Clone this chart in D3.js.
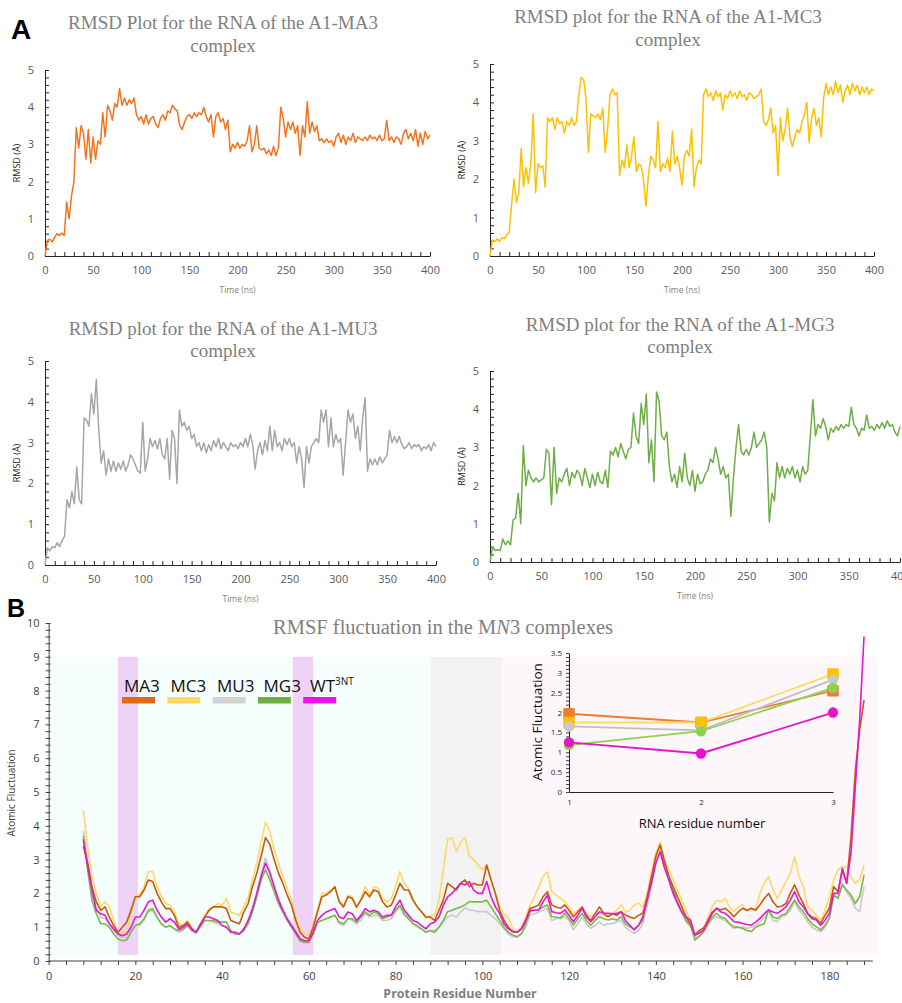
<!DOCTYPE html>
<html>
<head>
<meta charset="utf-8">
<script src="https://cdn.jsdelivr.net/npm/d3@7"></script>
<style>
  body { margin: 0; background: #fff; }
  svg { display: block; font-family: "Open Sans", sans-serif; }
</style>
</head>
<body>
<script>
// ---- RMSD data (A), one value every 2.5 ns from 0 to 400 ns ----
const time = d3.range(0, 400.01, 2.5);

const rmsdMA3 = [
  0.0,0.42,0.45,0.38,0.5,0.6,0.55,0.62,0.55,1.45,
  1.0,1.6,2.0,3.45,2.9,3.5,3.3,2.6,3.4,2.5,
  3.2,2.6,3.1,3.0,3.85,3.2,4.05,3.9,3.65,4.1,
  4.0,4.5,4.05,4.25,4.05,4.2,4.1,4.25,3.8,3.65,
  3.75,3.55,3.8,3.55,3.7,3.75,3.55,3.45,3.7,3.8,
  3.65,3.9,3.85,4.05,3.95,3.9,3.5,3.4,3.6,3.75,
  3.8,3.7,3.85,3.75,3.85,3.8,4.0,3.75,3.6,3.8,
  3.2,3.75,3.85,3.6,3.7,3.4,3.65,2.8,3.0,2.9,
  3.05,2.9,3.0,2.95,3.1,3.5,2.8,3.0,3.5,2.9,
  2.85,2.9,2.75,2.85,2.7,2.95,2.7,2.9,4.0,3.7,
  3.2,3.6,3.4,3.6,3.3,3.5,2.7,3.5,3.2,4.15,
  3.3,3.6,3.35,3.5,3.1,3.15,3.05,3.15,3.05,3.1,
  2.95,3.2,3.3,3.05,3.25,3.0,3.2,3.1,3.3,3.05,
  3.2,3.15,3.1,3.2,3.1,3.25,3.15,3.2,3.1,3.25,
  3.1,3.15,3.65,3.1,3.2,3.05,3.2,3.15,3.0,3.3,
  3.4,3.15,3.3,3.1,3.4,2.95,3.3,3.0,3.35,3.15,
  3.25
];

const rmsdMC3 = [
  0.0,0.42,0.38,0.45,0.38,0.48,0.45,0.55,0.62,1.35,
  2.0,1.4,1.65,2.8,1.8,2.3,1.9,2.4,3.7,1.65,
  2.4,2.3,2.35,1.8,3.6,3.5,3.6,3.3,3.6,3.45,
  3.5,3.2,3.5,3.4,3.6,3.4,3.5,4.2,4.65,4.6,
  4.1,2.7,3.7,3.65,3.6,3.7,3.55,3.85,2.7,3.3,
  4.2,4.35,4.2,4.25,2.1,2.5,2.3,2.9,2.3,2.6,
  3.1,2.2,2.4,2.35,1.95,1.3,2.1,2.6,2.5,2.3,
  3.5,2.2,2.4,2.3,2.55,2.2,3.25,2.4,2.6,2.3,
  1.85,2.6,2.75,2.6,3.3,1.8,2.3,2.5,2.4,4.2,
  4.35,4.15,4.25,4.05,4.3,4.15,4.25,3.8,4.2,4.1,
  4.3,4.15,4.25,4.1,4.3,4.15,4.2,4.05,4.25,4.2,
  4.1,4.15,4.2,4.35,3.5,3.4,3.55,3.85,3.2,3.4,
  2.1,3.6,3.0,3.3,3.85,3.1,2.85,3.1,3.3,3.2,
  3.5,3.7,4.0,2.95,3.6,3.85,3.4,3.6,3.1,4.1,
  4.5,4.2,4.4,4.2,4.55,4.25,4.45,4.0,4.3,4.45,
  4.2,4.5,4.3,4.45,4.2,4.4,4.25,4.4,4.2,4.35,
  4.3
];

const rmsdMU3 = [
  0.0,0.42,0.35,0.45,0.42,0.55,0.45,0.6,0.7,1.6,
  1.4,1.8,1.5,2.4,1.6,1.5,3.6,3.55,3.4,4.2,
  3.7,4.55,3.3,2.5,2.8,2.2,2.6,2.3,2.55,2.3,
  2.5,2.35,2.55,2.3,2.45,2.7,2.6,2.45,2.3,2.25,
  3.5,2.3,2.6,3.1,2.9,3.05,2.85,3.1,2.7,2.6,
  3.1,2.1,3.3,3.1,2.0,3.8,3.4,3.5,3.3,3.4,
  3.1,3.2,2.9,3.0,2.8,3.0,2.75,2.95,2.8,3.05,
  2.9,3.1,2.85,3.0,2.9,2.8,3.0,2.9,2.95,2.85,
  3.0,2.9,3.1,2.9,3.2,2.95,2.35,2.8,3.0,2.7,
  3.05,2.8,3.4,2.8,3.3,2.9,3.0,2.8,3.1,2.95,
  3.1,2.9,3.0,2.5,2.9,2.6,1.9,2.9,2.5,2.9,
  3.0,3.1,3.0,3.8,3.5,3.8,2.9,3.6,2.9,3.2,
  3.0,3.1,2.2,3.0,3.8,3.5,3.7,3.1,3.4,2.8,
  3.6,4.1,2.3,2.6,2.45,2.6,2.45,2.65,2.5,2.6,
  2.7,3.3,3.0,3.15,3.0,3.15,2.95,2.85,2.9,3.0,
  2.85,2.95,2.9,2.95,2.8,2.9,2.85,2.95,2.8,3.0,
  2.9
];

const rmsdMG3 = [
  0.0,0.4,0.3,0.32,0.3,0.6,0.45,0.55,0.45,1.1,
  1.15,1.8,1.0,3.05,2.0,2.4,2.2,2.1,2.2,2.1,
  2.15,2.2,2.95,2.85,1.5,3.0,1.8,2.2,2.1,2.3,
  2.45,2.0,2.35,2.2,2.4,2.3,2.0,2.45,2.2,1.95,
  2.3,2.0,2.35,2.1,2.05,2.4,1.95,2.9,2.8,3.0,
  2.75,3.1,2.9,2.7,2.95,3.0,3.9,3.3,3.1,4.15,
  3.6,4.4,2.6,3.2,2.1,4.45,4.2,3.3,3.2,3.4,
  2.5,2.1,2.3,1.95,2.5,2.1,2.85,2.2,2.0,2.4,
  1.85,2.3,2.05,2.1,2.3,2.4,2.7,2.6,3.0,2.7,
  2.3,2.5,2.2,2.3,1.2,2.2,3.0,3.6,2.9,2.8,
  2.95,2.8,3.0,3.4,3.0,3.1,3.2,3.4,3.0,1.05,
  1.8,1.6,2.6,2.2,2.5,2.2,2.45,2.3,2.5,2.2,
  2.4,2.1,2.5,2.3,2.4,3.3,4.25,3.3,3.6,3.5,
  3.75,3.55,3.2,3.5,3.4,3.55,3.45,3.6,3.5,3.6,
  3.55,4.05,3.6,3.5,3.3,3.5,3.45,3.85,3.5,3.55,
  3.45,3.6,3.5,3.65,3.5,3.7,3.55,3.6,3.4,3.3,
  3.55
];

const rmsdXTicks = d3.range(0, 401, 10);
const rmsdYTicks = d3.range(0, 5.01, 0.2);

// ---- RMSF data (B), residues 8 to 188 ----
const residues = d3.range(8, 189);

const rmsfMA3 = [
  3.4,2.9,2.2,1.75,1.5,1.6,1.3,1.05,0.85,1.0,
  1.15,1.5,1.9,1.9,2.1,2.4,2.35,2.0,1.75,1.55,
  1.55,1.35,1.0,1.05,1.15,0.95,0.85,1.05,1.3,1.5,
  1.6,1.6,1.6,1.55,1.2,1.15,1.1,1.45,1.7,2.2,
  2.6,3.1,3.65,3.45,3.0,2.6,2.3,1.95,1.65,1.2,
  0.85,0.7,0.65,1.0,1.45,1.9,1.95,2.05,2.2,1.75,
  1.6,1.9,1.85,1.6,1.8,2.05,1.9,2.1,2.05,1.75,
  1.6,1.65,1.95,2.3,2.1,2.1,1.8,1.6,1.45,1.3,
  1.3,1.2,1.5,1.8,2.3,2.2,2.1,2.3,2.4,2.2,
  2.3,2.25,2.25,2.84,2.4,2.0,1.5,1.2,1.0,0.87,
  0.85,0.95,1.2,1.56,1.6,1.66,1.9,2.05,1.66,1.6,
  1.56,1.66,1.5,1.31,1.45,1.6,1.35,1.2,1.4,1.6,
  1.4,1.31,1.4,1.35,1.45,1.36,1.3,1.26,1.35,1.41,
  1.9,2.5,3.1,3.43,2.95,2.5,2.2,1.9,1.6,1.3,
  1.1,0.77,0.9,0.98,1.15,1.4,1.56,1.51,1.56,1.45,
  1.31,1.45,1.56,1.5,1.56,1.5,1.66,1.85,2.0,1.75,
  1.6,1.62,1.7,2.0,2.25,1.95,1.7,1.41,1.3,1.26,
  1.11,1.35,1.56,2.2,2.05,2.69,2.3,3.68,5.65,6.84,
  7.72
];

const rmsfMC3 = [
  4.45,3.4,2.5,2.0,1.6,1.75,1.6,1.2,0.85,0.8,
  0.9,1.4,1.95,1.95,2.2,2.65,2.65,2.2,1.9,1.7,
  1.65,1.45,1.1,1.05,1.2,1.0,0.85,1.05,1.35,1.55,
  1.6,1.7,1.65,1.85,1.45,1.4,1.35,1.6,1.9,2.4,
  2.9,3.5,4.1,3.85,3.3,2.9,2.5,2.15,1.8,1.3,
  0.95,0.8,0.75,1.1,1.5,2.0,2.0,2.1,2.15,1.8,
  1.6,1.95,1.9,1.55,1.85,2.2,1.95,2.2,2.15,1.85,
  1.75,1.85,2.2,2.65,2.3,2.15,1.85,1.6,1.45,1.25,
  1.35,1.35,1.8,2.7,3.6,3.65,3.25,3.5,3.65,3.1,
  3.0,2.85,2.69,2.84,2.45,2.0,1.6,1.4,1.27,0.95,
  0.85,1.0,1.3,1.66,1.9,2.2,2.5,2.64,2.05,1.95,
  1.85,1.75,1.6,1.41,1.5,1.56,1.4,1.31,1.4,1.41,
  1.35,1.31,1.41,1.5,1.66,1.45,1.5,1.65,1.71,1.6,
  2.0,2.6,3.2,3.53,3.0,2.7,2.4,2.1,1.8,1.5,
  1.16,0.77,0.85,0.96,1.3,1.6,1.8,1.75,1.85,1.6,
  1.46,1.6,1.66,1.46,1.5,1.56,2.0,2.3,2.5,2.1,
  1.85,2.1,2.35,2.6,3.09,2.5,2.2,1.6,1.5,1.35,
  1.21,1.5,1.9,2.4,2.7,2.79,2.79,2.5,2.3,2.4,
  2.84
];

const rmsfMU3 = [
  3.85,3.0,2.0,1.55,1.3,1.25,1.1,0.9,0.75,0.7,
  0.7,0.9,1.05,1.05,1.2,1.45,1.5,1.3,1.1,1.0,
  1.05,0.95,0.85,0.9,1.05,0.9,0.82,1.0,1.2,1.2,
  1.15,1.1,1.05,1.0,0.85,0.8,0.8,0.9,1.15,1.5,
  2.0,2.6,3.05,2.7,2.25,1.85,1.55,1.25,1.05,0.85,
  0.65,0.6,0.58,0.8,1.15,1.2,1.25,1.3,1.35,1.1,
  1.05,1.25,1.2,1.1,1.2,1.4,1.3,1.35,1.35,1.2,
  1.2,1.25,1.45,1.6,1.35,1.25,1.1,1.0,0.95,0.85,
  0.9,0.9,1.0,1.15,1.3,1.35,1.3,1.45,1.57,1.5,
  1.5,1.46,1.46,1.46,1.35,1.25,1.11,0.95,0.8,0.72,
  0.7,0.8,1.0,1.36,1.4,1.45,1.5,1.56,1.2,1.25,
  1.3,1.3,1.2,0.92,1.1,1.31,1.1,0.97,1.05,1.16,
  1.05,1.1,1.1,1.16,1.2,1.0,0.9,0.82,0.9,1.1,
  1.6,2.3,2.9,3.28,2.8,2.4,2.0,1.7,1.4,1.15,
  1.01,0.7,0.75,0.85,1.05,1.25,1.31,1.25,1.2,1.1,
  0.96,1.0,1.01,0.96,1.0,1.06,1.15,1.3,1.51,1.2,
  1.16,1.31,1.36,1.5,1.75,1.5,1.36,1.16,1.0,0.92,
  0.87,1.0,1.26,1.9,1.9,2.3,2.05,1.85,1.56,1.46,
  2.2
];

const rmsfMG3 = [
  3.7,2.7,1.8,1.4,1.1,1.1,1.0,0.8,0.65,0.6,
  0.62,0.85,1.05,1.1,1.25,1.5,1.55,1.3,1.1,1.0,
  1.05,0.95,0.9,0.95,1.05,0.9,0.85,1.05,1.2,1.2,
  1.2,1.15,1.15,1.15,0.9,0.8,0.8,0.9,1.1,1.45,
  1.9,2.4,2.7,2.4,2.05,1.7,1.45,1.2,1.0,0.8,
  0.6,0.55,0.55,0.8,1.15,1.2,1.25,1.3,1.35,1.15,
  1.1,1.25,1.25,1.15,1.3,1.45,1.35,1.45,1.4,1.25,
  1.3,1.35,1.5,1.65,1.4,1.25,1.1,1.05,0.95,0.85,
  0.9,0.85,1.0,1.2,1.46,1.5,1.55,1.6,1.66,1.76,
  1.75,1.75,1.75,1.8,1.6,1.4,1.2,1.0,0.85,0.77,
  0.72,0.8,1.1,1.46,1.5,1.51,1.6,1.66,1.31,1.3,
  1.26,1.41,1.25,1.06,1.25,1.41,1.2,1.06,1.2,1.31,
  1.25,1.21,1.25,1.21,1.31,1.1,1.01,0.95,1.05,1.2,
  1.8,2.5,3.1,3.48,2.9,2.5,2.1,1.75,1.45,1.2,
  1.06,0.62,0.72,0.87,1.1,1.3,1.41,1.3,1.26,1.1,
  1.01,1.0,0.96,0.9,0.87,1.0,1.06,1.1,1.51,1.3,
  1.26,1.36,1.4,1.6,1.8,1.6,1.46,1.26,1.1,1.01,
  0.92,1.05,1.26,1.95,1.85,2.25,2.1,1.95,1.7,1.9,
  2.54
];

const rmsfWT = [
  3.6,2.8,2.1,1.5,1.4,1.35,1.1,0.95,0.8,0.75,
  0.8,1.0,1.3,1.3,1.5,1.75,1.8,1.5,1.3,1.15,
  1.25,1.15,0.95,1.0,1.1,0.95,0.85,1.1,1.3,1.3,
  1.25,1.2,1.05,1.0,0.85,0.85,0.8,0.95,1.2,1.55,
  2.0,2.5,2.9,2.6,2.2,1.8,1.5,1.25,1.05,0.85,
  0.65,0.6,0.6,0.85,1.2,1.35,1.45,1.5,1.55,1.3,
  1.25,1.45,1.4,1.2,1.35,1.55,1.45,1.5,1.45,1.3,
  1.35,1.35,1.6,1.8,1.5,1.35,1.2,1.15,1.05,0.95,
  1.1,1.15,1.3,1.65,1.9,2.0,2.15,2.3,2.25,2.35,
  2.1,2.0,2.0,2.35,1.9,1.6,1.41,1.1,0.95,0.87,
  0.85,0.95,1.2,1.51,1.5,1.51,1.75,1.95,1.46,1.43,
  1.41,1.51,1.35,1.16,1.35,1.56,1.3,1.16,1.3,1.46,
  1.42,1.41,1.4,1.41,1.46,1.2,1.06,0.92,1.05,1.31,
  1.8,2.3,2.9,3.23,2.75,2.4,2.0,1.7,1.45,1.3,
  1.21,0.77,0.82,0.92,1.2,1.45,1.56,1.45,1.41,1.3,
  1.16,1.15,1.11,1.08,1.06,1.15,1.26,1.4,1.51,1.45,
  1.41,1.5,1.6,1.8,2.05,1.75,1.6,1.4,1.25,1.21,
  1.06,1.2,1.41,2.0,2.0,2.74,2.3,3.19,5.16,7.13,
  9.6
];

// shaded residue ranges
const regionRanges = [[0.3, 88], [88, 104.4], [104.4, 191.2]];
const highlightRanges = [[16, 20.6], [56.3, 61]];

const legendLabels = ['MA3', 'MC3', 'MU3', 'MG3', 'WT'];

// ---- inset: RNA residues ----
const rnaResidues = [1, 2, 3];
const insetMA3 = [1.97, 1.75, 2.55];
const insetMC3 = [1.75, 1.75, 2.97];
const insetMU3 = [1.65, 1.55, 2.83];
const insetMG3 = [1.18, 1.53, 2.62];
const insetWT  = [1.25, 0.97, 2.0];
const insetYTicks = d3.range(0, 3.51, 0.1);

// ------------------------------------------------------------
const svg = d3.select('body').append('svg')
    .attr('width', 902)
    .attr('height', 1003);

const titleFont = '"Liberation Serif", "Times New Roman", serif';

svg.append('text')
    .attr('x', 11).attr('y', 39)
    .attr('font-family', '"Liberation Sans", Arial, sans-serif')
    .attr('font-weight', 'bold').attr('font-size', 28)
    .text('A');

const panels = [
    {values: rmsdMA3, color: '#f4731f', title: 'RMSD Plot for the RNA of the A1-MA3',
     xr: [45, 430], yr: [256, 70], tx: 223, ty: [29, 52]},
    {values: rmsdMC3, color: '#ffc000', title: 'RMSD plot for the RNA of the A1-MC3',
     xr: [490, 874], yr: [256, 64], tx: 668, ty: [23, 46]},
    {values: rmsdMU3, color: '#a6a6a6', title: 'RMSD plot for the RNA of the A1-MU3',
     xr: [45, 436], yr: [565, 361], tx: 223, ty: [335, 357]},
    {values: rmsdMG3, color: '#70ad47', title: 'RMSD plot for the RNA of the A1-MG3',
     xr: [490, 900], yr: [562, 371], tx: 680, ty: [331, 353]}
];

panels.forEach(drawRmsd);

function drawRmsd(p) {
    const x = d3.scaleLinear().domain([0, 400]).range(p.xr);
    const y = d3.scaleLinear().domain([0, 5]).range(p.yr);
    const g = svg.append('g');

    [p.title, 'complex'].forEach((t, i) => {
        g.append('text')
            .attr('x', p.tx).attr('y', p.ty[i])
            .attr('text-anchor', 'middle')
            .attr('font-family', titleFont)
            .attr('font-size', 19)
            .attr('fill', '#7f7f7f')
            .text(t);
    });

    const xAxis = d3.axisBottom(x)
        .tickValues(rmsdXTicks)
        .tickSizeInner(-4).tickSizeOuter(0)
        .tickPadding(10)
        .tickFormat(d => d % 50 === 0 ? d : '');
    const gx = g.append('g')
        .attr('transform', 'translate(0,' + p.yr[0] + ')')
        .call(xAxis);

    const yAxis = d3.axisLeft(y)
        .tickValues(rmsdYTicks)
        .tickSizeInner(-4).tickSizeOuter(0)
        .tickPadding(11)
        .tickFormat(d => Math.abs(d - Math.round(d)) < 1e-6 ? Math.round(d) : '');
    const gy = g.append('g')
        .attr('transform', 'translate(' + p.xr[0] + ',0)')
        .call(yAxis);

    [gx, gy].forEach(a => {
        a.select('.domain').attr('stroke', '#262626');
        a.selectAll('.tick line').attr('stroke', '#262626');
        a.selectAll('.tick text')
            .attr('fill', '#595959')
            .attr('font-size', 11)
            .attr('font-family', '"Open Sans", sans-serif');
    });

    g.append('path')
        .datum(p.values)
        .attr('fill', 'none')
        .attr('stroke', p.color)
        .attr('stroke-width', 1.5)
        .attr('stroke-linejoin', 'round')
        .attr('d', d3.line().x((d, i) => x(time[i])).y(d => y(d)));

    g.append('text')
        .attr('x', (p.xr[0] + p.xr[1]) / 2)
        .attr('y', p.yr[0] + 37)
        .attr('text-anchor', 'middle')
        .attr('font-size', 8.5)
        .attr('fill', '#7f7f7f')
        .text('Time (ns)');

    g.append('text')
        .attr('transform', 'translate(' + (p.xr[0] - 25) + ',' + ((p.yr[0] + p.yr[1]) / 2) + ') rotate(-90)')
        .attr('text-anchor', 'middle')
        .attr('font-size', 9)
        .attr('fill', '#262626')
        .text('RMSD (Å)');
}

// ---------------- panel B ----------------
svg.append('text')
    .attr('x', 7).attr('y', 617)
    .attr('font-family', '"Liberation Sans", Arial, sans-serif')
    .attr('font-weight', 'bold').attr('font-size', 25)
    .text('B');

const bx = d3.scaleLinear().domain([0, 190]).range([48.6, 872.7]);
const by = d3.scaleLinear().domain([0, 10]).range([961, 623]);
const regionColors = ['#f5fdfd', '#f2f2f2', '#fdf6fb'];

const gb = svg.append('g');

gb.selectAll('rect.region')
    .data(regionRanges).enter().append('rect')
    .attr('class', 'region')
    .attr('x', d => bx(d[0]))
    .attr('width', d => bx(d[1]) - bx(d[0]))
    .attr('y', by(9))
    .attr('height', by(0.18) - by(9))
    .attr('fill', (d, i) => regionColors[i]);

gb.selectAll('rect.hl')
    .data(highlightRanges).enter().append('rect')
    .attr('class', 'hl')
    .attr('x', d => bx(d[0]))
    .attr('width', d => bx(d[1]) - bx(d[0]))
    .attr('y', by(9))
    .attr('height', by(0.18) - by(9))
    .attr('fill', '#efd3f6');

// title with italic N
const bt = gb.append('text')
    .attr('x', 443).attr('y', 634)
    .attr('text-anchor', 'middle')
    .attr('font-family', titleFont)
    .attr('font-size', 20.5)
    .attr('fill', '#7f7f7f');
bt.append('tspan').text('RMSF fluctuation in the M');
bt.append('tspan').attr('font-style', 'italic').text('N');
bt.append('tspan').text('3 complexes');

// axes
const bxAxis = d3.axisBottom(bx)
    .tickValues(d3.range(0, 189, 4))
    .tickSizeInner(4).tickSizeOuter(0)
    .tickPadding(7)
    .tickFormat(d => d % 20 === 0 ? d : '');
const gbx = gb.append('g')
    .attr('transform', 'translate(0,' + by(0) + ')')
    .call(bxAxis);
gbx.select('.domain').attr('d', 'M' + bx(0) + ',0H' + bx(190));

const byAxis = d3.axisLeft(by)
    .tickValues(d3.range(0, 10.01, 0.2))
    .tickSizeInner(3).tickSizeOuter(0)
    .tickPadding(6)
    .tickFormat(d => Math.abs(d - Math.round(d)) < 1e-6 ? Math.round(d) : '');
const gby = gb.append('g')
    .attr('transform', 'translate(' + bx(0) + ',0)')
    .call(byAxis);
gby.selectAll('.tick line').attr('x1', 2);

[gbx, gby].forEach(a => {
    a.select('.domain').attr('stroke', '#404040');
    a.selectAll('.tick line').attr('stroke', '#404040');
    a.selectAll('.tick text')
        .attr('fill', '#404040')
        .attr('font-size', 11)
        .attr('font-family', '"Open Sans", sans-serif');
});

const rmsfSeries = [
    {values: rmsfMU3, color: '#c9c9c9'},
    {values: rmsfMG3, color: '#77bb45'},
    {values: rmsfMC3, color: '#ffd966'},
    {values: rmsfMA3, color: '#c55a11'},
    {values: rmsfWT,  color: '#e617d2'}
];

const bline = d3.line().x((d, i) => bx(residues[i])).y(d => by(d));
gb.selectAll('path.rmsf')
    .data(rmsfSeries).enter().append('path')
    .attr('class', 'rmsf')
    .attr('fill', 'none')
    .attr('stroke', d => d.color)
    .attr('stroke-width', 1.6)
    .attr('stroke-linejoin', 'round')
    .attr('d', d => bline(d.values));

// legend
const legendColors = ['#e0691b', '#ffd966', '#d3d3d3', '#70ad47', '#e617e6'];
const lg = gb.selectAll('g.leg')
    .data(legendLabels).enter().append('g')
    .attr('class', 'leg');
lg.append('rect')
    .attr('x', (d, i) => 122 + i * 45.3)
    .attr('y', 697)
    .attr('width', 33).attr('height', 6.5)
    .attr('fill', (d, i) => legendColors[i]);
const lt = lg.append('text')
    .attr('x', (d, i) => 124 + i * 46.5)
    .attr('y', 692)
    .attr('font-size', 17)
    .attr('fill', '#111');
lt.append('tspan').text(d => d);
lt.filter(d => d === 'WT').append('tspan')
    .attr('font-size', 10).attr('dy', -7)
    .text('3NT');

gb.append('text')
    .attr('transform', 'translate(15,793) rotate(-90)')
    .attr('text-anchor', 'middle')
    .attr('font-size', 10)
    .attr('fill', '#404040')
    .text('Atomic Fluctuation');

gb.append('text')
    .attr('x', 460).attr('y', 998)
    .attr('text-anchor', 'middle')
    .attr('font-size', 12.5)
    .attr('font-weight', 'bold')
    .attr('fill', '#7f7f7f')
    .text('Protein Residue Number');

// ---------------- inset ----------------
const ix = d3.scaleLinear().domain([1, 3]).range([569, 833]);
const iy = d3.scaleLinear().domain([0, 3.5]).range([792, 653]);
const gi = svg.append('g');

const iyAxis = d3.axisLeft(iy)
    .tickValues(insetYTicks)
    .tickSizeInner(3).tickSizeOuter(0)
    .tickPadding(4)
    .tickFormat(d => {
        const r = Math.round(d * 10) / 10;
        return Math.abs(r * 2 - Math.round(r * 2)) < 1e-6 ? d3.format('~g')(r) : '';
    });
const giy = gi.append('g').attr('transform', 'translate(' + ix(1) + ',0)').call(iyAxis);
const ixAxis = d3.axisBottom(ix)
    .tickValues(rnaResidues)
    .tickSizeInner(0).tickSizeOuter(0)
    .tickPadding(7)
    .tickFormat(d3.format('d'));
const gix = gi.append('g').attr('transform', 'translate(0,' + iy(0) + ')').call(ixAxis);
[giy, gix].forEach(a => {
    a.select('.domain').attr('stroke', '#262626');
    a.selectAll('.tick line').attr('stroke', '#404040');
    a.selectAll('.tick text')
        .attr('fill', '#262626')
        .attr('font-size', 8)
        .attr('font-family', '"Open Sans", sans-serif');
});

const insetSeries = [
    {values: insetMA3, line: '#ed7d31', mark: '#ed7d31', shape: 'square'},
    {values: insetMC3, line: '#ffd966', mark: '#ffc000', shape: 'square'},
    {values: insetMU3, line: '#bfbfbf', mark: '#c8c8c8', shape: 'circle'},
    {values: insetMG3, line: '#92d050', mark: '#92d050', shape: 'circle'},
    {values: insetWT,  line: '#e614c8', mark: '#e614c8', shape: 'circle'}
];

const iline = d3.line().x((d, i) => ix(rnaResidues[i])).y(d => iy(d));
insetSeries.forEach(s => {
    gi.append('path')
        .attr('fill', 'none')
        .attr('stroke', s.line)
        .attr('stroke-width', 1.8)
        .attr('d', iline(s.values));
});
insetSeries.forEach(s => {
    const sym = d3.symbol().type(s.shape === 'square' ? d3.symbolSquare : d3.symbolCircle).size(s.shape === 'square' ? 90 : 85);
    gi.selectAll(null)
        .data(s.values).enter().append('path')
        .attr('transform', (d, i) => 'translate(' + ix(rnaResidues[i]) + ',' + iy(d) + ')')
        .attr('d', sym)
        .attr('fill', s.mark)
        .attr('stroke', s.mark)
        .attr('stroke-linejoin', 'round')
        .attr('stroke-width', s.shape === 'square' ? 2 : 0);
});

gi.append('text')
    .attr('transform', 'translate(542,722) rotate(-90)')
    .attr('text-anchor', 'middle')
    .attr('font-size', 13.5)
    .attr('fill', '#111')
    .text('Atomic Fluctuation');

gi.append('text')
    .attr('x', 702).attr('y', 828)
    .attr('text-anchor', 'middle')
    .attr('font-size', 13)
    .attr('fill', '#111')
    .text('RNA residue number');
</script>
</body>
</html>
